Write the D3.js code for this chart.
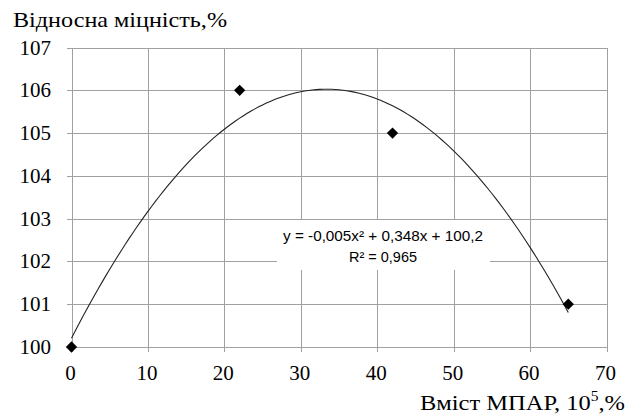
<!DOCTYPE html>
<html>
<head>
<meta charset="utf-8">
<script src="https://cdn.jsdelivr.net/npm/d3@7"></script>
<style>
  body { margin: 0; background: #fff; }
  svg { display: block; }
  .tick-label { font-family: "Liberation Serif", "Times New Roman", serif; font-size: 21px; fill: #000; }
  .title { font-family: "Liberation Serif", "Times New Roman", serif; font-size: 22px; fill: #000; }
  .eq { font-family: "Liberation Sans", Arial, sans-serif; font-size: 14.5px; fill: #000; }
</style>
</head>
<body>
<svg id="chart" width="639" height="417"></svg>
<script>
// data
var content = [0, 22, 42, 65];          // Вміст МПАР, 10^5 %
var strength = [100, 106, 105, 101];    // Відносна міцність, %
var xTicks = [0, 10, 20, 30, 40, 50, 60, 70];
var yTicks = [100, 101, 102, 103, 104, 105, 106, 107];
var eqLines = ['y = -0,005x\u00b2 + 0,348x + 100,2', 'R\u00b2 = 0,965'];

var svg = d3.select('#chart');
var plotLeft = 71.5, plotRight = 606.5, plotTop = 47.5, plotBottom = 347;

var x = d3.scaleLinear().domain([0, 70]).range([plotLeft, plotRight]);
var y = d3.scaleLinear().domain([100, 107]).range([plotBottom, plotTop]);

// quadratic least-squares fit, same as the excel trendline
function polyFit(xs, ys) {
    var s = [0, 0, 0, 0, 0], t = [0, 0, 0];
    xs.forEach(function(xv, i) {
	for (var k = 0; k < 5; k++) s[k] += Math.pow(xv, k);
	for (var k = 0; k < 3; k++) t[k] += Math.pow(xv, k) * ys[i];
    });
    var m = [[s[0], s[1], s[2], t[0]], [s[1], s[2], s[3], t[1]], [s[2], s[3], s[4], t[2]]];
    for (var i = 0; i < 3; i++) {
	for (var j = i + 1; j < 3; j++) {
	    var f = m[j][i] / m[i][i];
	    for (var k = i; k < 4; k++) m[j][k] -= f * m[i][k];
	}
    }
    var c = [0, 0, 0];
    for (var i = 2; i >= 0; i--) {
	var v = m[i][3];
	for (var k = i + 1; k < 3; k++) v -= m[i][k] * c[k];
	c[i] = v / m[i][i];
    }
    return c;
}
var coef = polyFit(content, strength);

// grid
var grid = svg.append('g').attr('stroke', '#a0a0a0').attr('stroke-width', 1).attr('shape-rendering', 'crispEdges');
grid.selectAll('.h').data(yTicks).enter().append('line')
    .attr('x1', plotLeft - 5).attr('x2', plotRight)
    .attr('y1', function(d) { return Math.round(y(d)) + 0.5; })
    .attr('y2', function(d) { return Math.round(y(d)) + 0.5; });
grid.selectAll('.v').data(xTicks).enter().append('line')
    .attr('y1', plotTop).attr('y2', plotBottom + 5)
    .attr('x1', function(d) { return Math.round(x(d)) + 0.5; })
    .attr('x2', function(d) { return Math.round(x(d)) + 0.5; });

// tick labels
svg.selectAll('.yl').data(yTicks).enter().append('text')
    .attr('class', 'tick-label')
    .attr('x', 51).attr('y', function(d) { return y(d) + 7; })
    .attr('text-anchor', 'end')
    .text(function(d) { return d; });
svg.selectAll('.xl').data(xTicks).enter().append('text')
    .attr('class', 'tick-label')
    .attr('x', function(d) { return x(d) - 1; }).attr('y', 380)
    .attr('text-anchor', 'middle')
    .text(function(d) { return d; });

// axis titles
svg.append('text').attr('class', 'title')
    .attr('x', 13).attr('y', 27)
    .attr('textLength', 214).attr('lengthAdjust', 'spacingAndGlyphs')
    .text('Відносна міцність,%');
var xt = svg.append('text').attr('class', 'title')
    .attr('x', 420).attr('y', 410)
    .attr('textLength', 205).attr('lengthAdjust', 'spacingAndGlyphs');
xt.append('tspan').text('Вміст МПАР, 10');
xt.append('tspan').attr('dy', -9).attr('font-size', 14).text('5');
xt.append('tspan').attr('dy', 9).text(',%');

// trendline
var line = d3.line()
    .x(function(d) { return x(d); })
    .y(function(d) { return y(coef[0] + coef[1] * d + coef[2] * d * d); });
svg.append('path')
    .datum(d3.range(0, 65.01, 0.5))
    .attr('d', line)
    .attr('fill', 'none')
    .attr('stroke', '#222')
    .attr('stroke-width', 1.1);

// equation box
svg.append('rect')
    .attr('x', 277).attr('y', 220).attr('width', 213).attr('height', 50)
    .attr('fill', '#fff');
svg.selectAll('.eq').data(eqLines).enter().append('text')
    .attr('class', 'eq')
    .attr('x', 383).attr('y', function(d, i) { return 241 + i * 21; })
    .attr('text-anchor', 'middle')
    .attr('textLength', function(d, i) { return i === 0 ? 200 : 68; })
    .attr('lengthAdjust', 'spacingAndGlyphs')
    .text(function(d) { return d; });

// markers
svg.selectAll('.pt').data(content).enter().append('path')
    .attr('d', d3.symbol().type(d3.symbolSquare).size(64))
    .attr('transform', function(d, i) { return 'translate(' + x(d) + ',' + y(strength[i]) + ') rotate(45)'; })
    .attr('fill', '#000');
</script>
</body>
</html>
